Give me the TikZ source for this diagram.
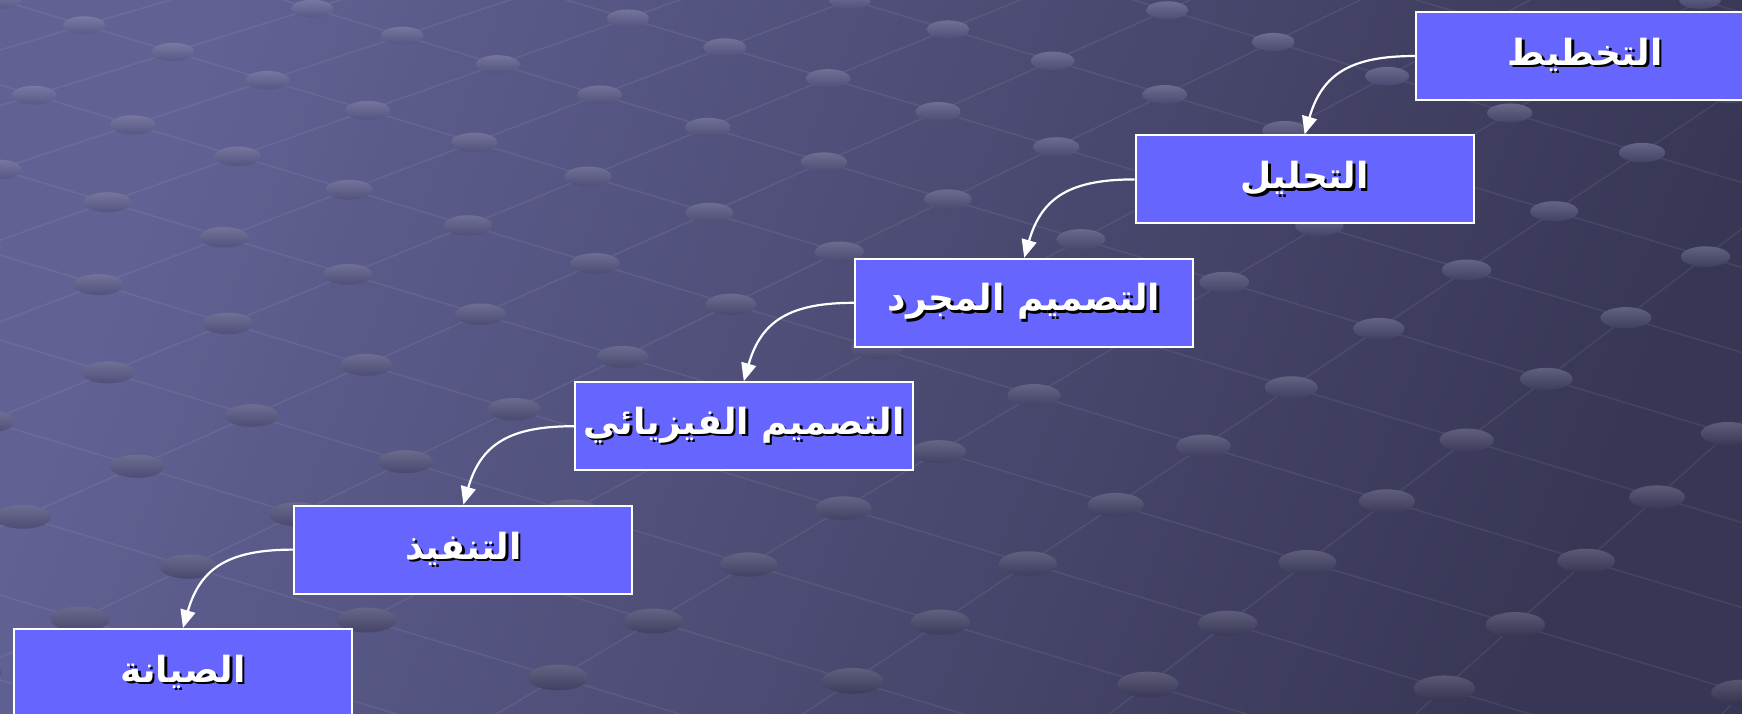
\documentclass[tikz,border=0pt]{standalone}
\usepackage{fontspec}
\newfontfamily\arabicfont[Script=Arabic]{DejaVu Sans}
\TeXXeTstate=1
\usetikzlibrary{arrows.meta}
\definecolor{bgA}{RGB}{97,97,148}
\definecolor{bgB}{RGB}{55,54,84}
\definecolor{boxfill}{RGB}{102,102,255}
\newcommand\artext[1]{\arabicfont\bfseries\fontsize{36}{42}\selectfont\leavevmode\raisebox{-3pt}{\rlap{\kern2.5pt\raisebox{-2.5pt}{\color{black}\beginR #1\endR}}\beginR #1\endR}}
\tikzset{
  stagebox/.style={draw=white, line width=2pt, fill=boxfill, minimum width=338pt,
    minimum height=88pt, anchor=north west, inner sep=0pt, text=white},
  flowarrow/.style={draw=white, line width=2.2pt, -{Triangle[length=18pt,width=15pt]}},
  gridline/.style={draw=white, opacity=0.07, line width=1.5pt}
}
\begin{document}
\begin{tikzpicture}[x=1pt,y=1pt]
\useasboundingbox (0,0) rectangle (1742,-713);
\begin{scope}
\clip (0,0) rectangle (1742,-713);
\shade[top color=bgA, bottom color=bgB, shading angle=68] (-10,10) rectangle (1752,-723);
\foreach \c in {-595,-510,...,765} {
  \draw[gridline] (0,-\c) -- (1742,{-(\c+522.6)});
}
\foreach \b in {-170,0,...,2550} {
  \draw[gridline] (3200,890) -- ({2*\b-3200},-890);
}
\foreach \c in {-595,-510,...,765} {
  \foreach \b in {-170,0,...,2550} {
    \pgfmathsetmacro\s{(1850+\c)/(1850-0.3*\b)}
    \pgfmathsetmacro\px{3200+\s*(\b-3200)}
    \pgfmathsetmacro\py{-890+890*\s}
    \pgfmathtruncatemacro\inside{(\px>-60)&&(\px<1800)&&(\py>-40)&&(\py<760)}
    \ifnum\inside=1
      \pgfmathsetmacro\rx{21+10*\py/713}
      \pgfmathtruncatemacro\pct{max(0,min(100,105-55*(\px/1742+\py/713)))}
      \colorlet{dc}{bgA!\pct!bgB}
      \shade[top color=dc!84!white, bottom color=dc!93!black] (\px,-\py) ellipse [x radius=\rx, y radius=0.42*\rx];
    \fi
  }
}
\end{scope}
\node[stagebox] (b1) at (1415,-11) {\artext{التخطيط}};
\node[stagebox] (b2) at (1134.6,-134.4) {\artext{التحليل}};
\node[stagebox] (b3) at (854.2,-257.8) {\artext{التصميم المجرد}};
\node[stagebox] (b4) at (573.8,-381.2) {\artext{التصميم الفيزيائي}};
\node[stagebox] (b5) at (293.4,-504.6) {\artext{التنفيذ}};
\node[stagebox] (b6) at (13,-628) {\artext{الصيانة}};
\draw[flowarrow] (b1.west) to[out=180,in=74,looseness=1.2] (b2.north);
\draw[flowarrow] (b2.west) to[out=180,in=74,looseness=1.2] (b3.north);
\draw[flowarrow] (b3.west) to[out=180,in=74,looseness=1.2] (b4.north);
\draw[flowarrow] (b4.west) to[out=180,in=74,looseness=1.2] (b5.north);
\draw[flowarrow] (b5.west) to[out=180,in=74,looseness=1.2] (b6.north);
\end{tikzpicture}
\end{document}
